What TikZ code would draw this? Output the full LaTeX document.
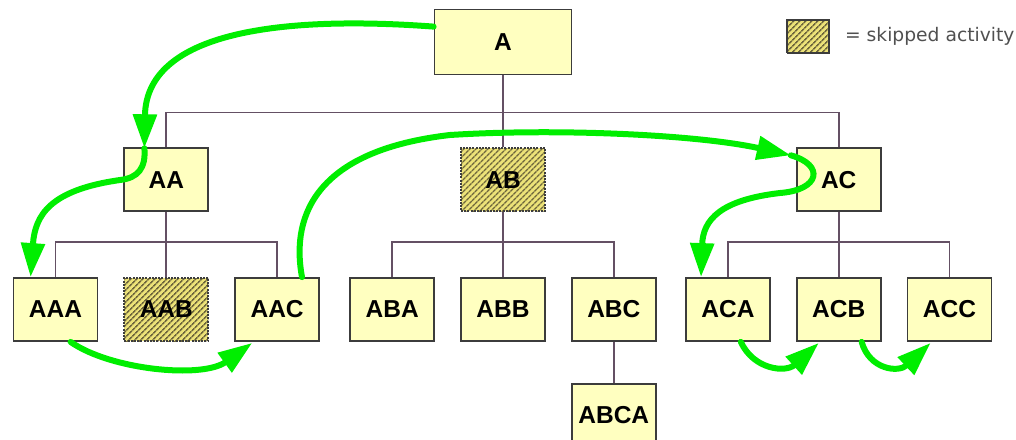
\documentclass[tikz,border=0pt]{standalone}
\usepackage{fontspec}
\setmainfont{Liberation Sans}
\newfontfamily\legendfont{DejaVu Sans}
\usetikzlibrary{positioning,calc,arrows.meta,patterns.meta}

\definecolor{boxyellow}{RGB}{255,255,192}
\definecolor{boxline}{RGB}{60,60,60}
\definecolor{treeline}{RGB}{100,80,100}
\definecolor{flowgreen}{RGB}{0,238,0}
\definecolor{hatchbg}{RGB}{236,226,120}
\definecolor{hatchfg}{RGB}{110,102,60}
\definecolor{legendgray}{RGB}{80,80,80}

\begin{document}
\begin{tikzpicture}[x=1pt,y=-1pt,node distance=25pt]
  \tikzset{activity/.style={rectangle, draw=boxline, line width=1.8pt, fill=boxyellow,
      minimum width=84pt, minimum height=63pt, inner sep=0pt,
      font=\fontsize{24.5}{28}\selectfont\bfseries}}
  \tikzset{skipped/.style={activity, preaction={fill=hatchbg},
      pattern={Lines[angle=45,distance=4pt,line width=1.6pt]}, pattern color=hatchfg,
      dash pattern=on 2pt off 1.2pt}}
  \tikzset{tree/.style={draw=treeline, line width=1.8pt}}
  \tikzset{flow/.style={draw=flowgreen, line width=6pt, line cap=round,
      -{Triangle[length=34pt,width=23pt]}}}

  \useasboundingbox (0,0) rectangle (1016,439);

  \node[activity, minimum width=137pt, minimum height=65pt] (A) at (503,42) {A};
  \node[skipped, below=72pt of A] (AB) {AB};
  \node[activity, left=251pt of AB] (AA) {AA};
  \node[activity, right=250pt of AB] (AC) {AC};

  \node[skipped, below=65pt of AA] (AAB) {AAB};
  \node[activity, left=of AAB] (AAA) {AAA};
  \node[activity, right=of AAB] (AAC) {AAC};
  \node[activity, below=65pt of AB] (ABB) {ABB};
  \node[activity, left=of ABB] (ABA) {ABA};
  \node[activity, right=of ABB] (ABC) {ABC};
  \node[activity, below=65pt of AC] (ACB) {ACB};
  \node[activity, left=of ACB] (ACA) {ACA};
  \node[activity, right=of ACB] (ACC) {ACC};
  \node[activity, below=41pt of ABC] (ABCA) {ABCA};

  % legend
  \node[skipped, minimum width=42pt, minimum height=33pt, dash pattern=on 20pt off 0pt] (key) at (808,36.5) {};
  \node[right=15pt of key, inner sep=0pt, text=legendgray,
    font=\legendfont\fontsize{18.7}{22}\selectfont] (keytext) {= skipped activity};

  % tree
  \draw[tree] (A.south) -- (AB.north);
  \draw[tree] (A.south) -- ++(0,37) -| (AA.north);
  \draw[tree] (A.south) -- ++(0,37) -| (AC.north);
  \draw[tree] (AA.south) -- (AAB.north);
  \draw[tree] (AA.south) -- ++(0,30) -| (AAA.north);
  \draw[tree] (AA.south) -- ++(0,30) -| (AAC.north);
  \draw[tree] (AB.south) -- (ABB.north);
  \draw[tree] (AB.south) -- ++(0,30) -| (ABA.north);
  \draw[tree] (AB.south) -- ++(0,30) -| (ABC.north);
  \draw[tree] (AC.south) -- (ACB.north);
  \draw[tree] (AC.south) -- ++(0,30) -| (ACA.north);
  \draw[tree] (AC.south) -- ++(0,30) -| (ACC.north);
  \draw[tree] (ABC.south) -- (ABCA.north);

  % visiting order
  \coordinate (AAin) at ($(AA.north west)+(21,1)$);
  \coordinate (ACin) at ($(AC.north west)+(-5,8)$);
  \draw[flow] ($(A.north west)+(0,18)$) .. controls +(-135,-10) and +(2,-122) .. (AAin);
  \draw[flow] (AAin) .. controls (146,168) and (138,178) .. (120,180)
    .. controls (50,190) and (35,215) .. ($(AAA.north west)+(18,0)$);
  \draw[flow] ($(AAA.south west)+(58,0)$) .. controls +(40,28) and +(-50,36) .. ($(AAC.south west)+(18,1)$);
  \draw[flow] ($(AAC.north east)+(-18,0)$) .. controls +(-12,-65) and (320,150) .. (450,135)
    .. controls (560,128) and (700,135) .. (ACin);
  \draw[flow] (ACin) .. controls (825,165) and (820,190) .. (780,193)
    .. controls (720,200) and (703,220) .. ($(ACA.north west)+(16,0)$);
  \draw[flow] ($(ACA.south east)+(-30,0)$) .. controls +(13,28) and +(-33,30) .. ($(ACB.south west)+(23,1)$);
  \draw[flow] ($(ACB.south east)+(-20,0)$) .. controls +(8,28) and +(-32,30) .. ($(ACC.south west)+(24,1)$);
\end{tikzpicture}
\end{document}
